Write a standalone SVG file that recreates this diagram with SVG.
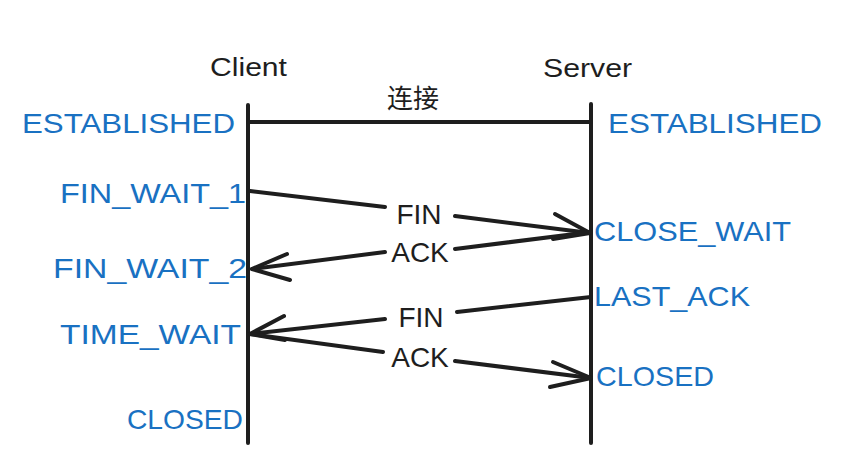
<svg xmlns="http://www.w3.org/2000/svg" width="853" height="467" viewBox="0 0 853 467">
<style>
.state{font-family:"Liberation Sans","Noto Sans",sans-serif;font-size:28px;fill:#1971c2}
.title{font-family:"Liberation Sans","Noto Sans",sans-serif;font-size:26px;fill:#1e1e1e}
.msg{font-family:"Liberation Sans","Noto Sans",sans-serif;font-size:28px;fill:#1e1e1e}
.cjk{font-family:"Noto Sans CJK SC","Noto Sans",sans-serif;font-size:26px;fill:#1e1e1e}
.ln{stroke:#1e1e1e;stroke-width:4;stroke-linecap:round;fill:none}
.ar{stroke:#1e1e1e;stroke-width:4;stroke-linecap:round;stroke-linejoin:round;fill:none}
</style>
<rect width="853" height="467" fill="#ffffff"/>
<g id="client">
<text class="title" x="210" y="76" textLength="77" lengthAdjust="spacingAndGlyphs">Client</text>
<line class="ln" x1="248" y1="105" x2="248" y2="443"/>
</g>
<g id="server">
<text class="title" x="543" y="77" textLength="89" lengthAdjust="spacingAndGlyphs">Server</text>
<line class="ln" x1="591" y1="104" x2="591" y2="443"/>
</g>
<g id="client-states">
<text class="state" x="22" y="133" textLength="213" lengthAdjust="spacingAndGlyphs">ESTABLISHED</text>
<text class="state" x="60" y="203" textLength="186" lengthAdjust="spacingAndGlyphs">FIN_WAIT_1</text>
<text class="state" x="53" y="278" textLength="194" lengthAdjust="spacingAndGlyphs">FIN_WAIT_2</text>
<text class="state" x="60" y="344" textLength="181" lengthAdjust="spacingAndGlyphs">TIME_WAIT</text>
<text class="state" x="127" y="429" textLength="116" lengthAdjust="spacingAndGlyphs">CLOSED</text>
</g>
<g id="server-states">
<text class="state" x="608" y="133" textLength="214" lengthAdjust="spacingAndGlyphs">ESTABLISHED</text>
<text class="state" x="594" y="241" textLength="197" lengthAdjust="spacingAndGlyphs">CLOSE_WAIT</text>
<text class="state" x="594" y="306" textLength="156" lengthAdjust="spacingAndGlyphs">LAST_ACK</text>
<text class="state" x="596" y="386" textLength="118" lengthAdjust="spacingAndGlyphs">CLOSED</text>
</g>
<g id="connectors">
<line class="ln" x1="248" y1="122" x2="591" y2="122" stroke-width="3"/>
<text class="cjk" x="413" y="108" text-anchor="middle">连接</text>
<polyline class="ar" points="250,191 385,207"/>
<polyline class="ar" points="455,216 590,233"/>
<polyline class="ar" points="555,214 590,233 553,239"/>
<text class="msg" x="419" y="224" text-anchor="middle">FIN</text>
<polyline class="ar" points="591,232 455,249"/>
<polyline class="ar" points="385,252 252,269"/>
<polyline class="ar" points="287,254 252,269 290,280"/>
<text class="msg" x="420" y="262" text-anchor="middle">ACK</text>
<polyline class="ar" points="591,297 457,312"/>
<polyline class="ar" points="385,319 250,334"/>
<polyline class="ar" points="284,316 250,334 285,340"/>
<text class="msg" x="421" y="327" text-anchor="middle">FIN</text>
<polyline class="ar" points="250,334 383,352" stroke-width="3"/>
<polyline class="ar" points="455,361 591,378" stroke-width="3"/>
<polyline class="ar" points="553,362 591,378 550,387" stroke-width="3"/>
<text class="msg" x="420" y="367" text-anchor="middle">ACK</text>
</g>
</svg>
